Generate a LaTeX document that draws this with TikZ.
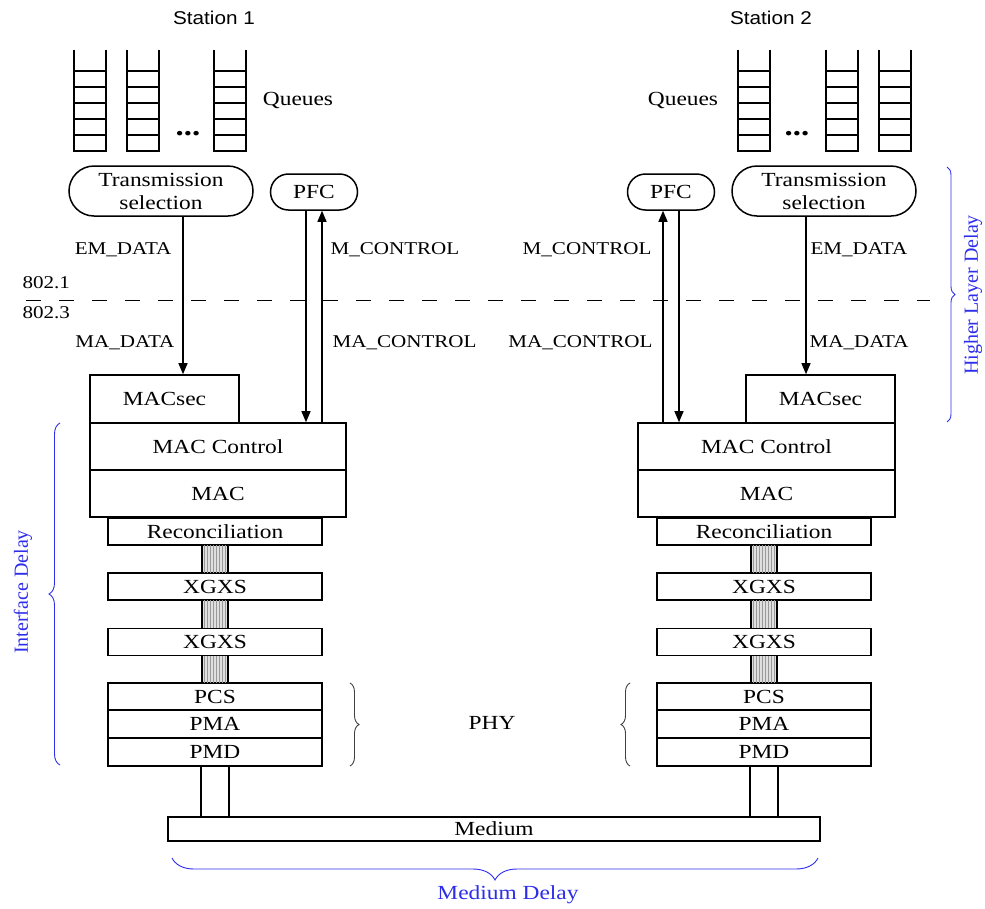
\documentclass[tikz,border=0pt]{standalone}
\usepackage{fontspec}
\setmainfont{Liberation Serif}[FakeStretch=1.17]
\newfontfamily\stationfont{Liberation Sans}[FakeStretch=1.12]
\newfontfamily\delayfont{Liberation Serif}
\usepackage{tikz}
\usetikzlibrary{arrows.meta,shapes.misc,patterns,decorations.pathreplacing}
\definecolor{delayblue}{RGB}{45,45,235}
\newcommand\SA{215}
\newcommand\SB{764}

\begin{document}
\begin{tikzpicture}[x=1pt,y=-1pt,>={Triangle[length=11pt,width=9pt]},
                    line width=1.2pt,inner sep=0pt,
                    font=\fontsize{20}{23}\selectfont]

  \tikzstyle{layer}=[rectangle,draw,line width=1.6pt,minimum width=214pt,minimum height=27pt]
  \tikzstyle{sel}=[rounded rectangle,draw,line width=1.5pt,align=center,minimum width=184pt,minimum height=50pt]
  \tikzstyle{pfc}=[rounded rectangle,draw,line width=1.5pt,minimum width=87pt,minimum height=36pt]
  \tikzstyle{sig}=[font=\fontsize{18}{20}\selectfont]
  \tikzstyle{bus}=[fill=gray!25,postaction={pattern=vertical lines,pattern color=gray!80}]
  \tikzstyle{delay}=[decorate,decoration={brace,amplitude=8pt},draw=delayblue,line width=0.9pt]
  \tikzstyle{delaytext}=[text=delayblue,font=\delayfont\fontsize{20}{22}\selectfont]
  \tikzstyle{phy}=[decorate,decoration={brace,amplitude=9pt},draw=black!75,line width=0.9pt]

  \useasboundingbox (0,0) rectangle (985,908);

  \node[font=\stationfont\fontsize{18.5}{20}\selectfont] (stA) at (214,18) {Station 1};
  \node[font=\stationfont\fontsize{18.5}{20}\selectfont] (stB) at (771,18) {Station 2};

  % queues
  \foreach \x in {74,127,214,738,826,879} {
    \draw[line width=1.7pt] (\x,50) -- (\x,152) (\x+32,50) -- (\x+32,152);
    \foreach \y in {71,87,103,119,135,151}
      \draw[line width=1.7pt] (\x,\y) -- (\x+32,\y);
  }
  \node[font=\fontsize{28}{30}\bfseries] (dotsA) at (188,134) {...};
  \node[font=\fontsize{28}{30}\bfseries] (dotsB) at (797,134) {...};
  \node (qA) at (298,100) {Queues};
  \node (qB) at (683,100) {Queues};

  \node[sel] (tsA)  at (161,191) {Transmission\\selection};
  \node[pfc] (pfcA) at (314,192) {PFC};
  \node[pfc] (pfcB) at (671,192) {PFC};
  \node[sel] (tsB)  at (824,191) {Transmission\\selection};

  \node[layer,minimum width=149pt,minimum height=48pt] (secA) at (164.5,399) {MACsec};
  \node[layer,minimum width=256pt,minimum height=47pt] (ctlA) at (218,446.5) {MAC Control};
  \node[layer,minimum width=256pt,minimum height=47pt] (macA) at (218,493.5) {MAC};
  \node[layer] (recA) at (\SA,531.5) {Reconciliation};
  \node[layer] (xsA1) at (\SA,586.5) {XGXS};
  \node[layer] (xsA2) at (\SA,642)   {XGXS};
  \node[layer] (pcsA) at (\SA,696.5) {PCS};
  \node[layer,minimum height=28pt] (pmaA) at (\SA,724) {PMA};
  \node[layer,minimum height=28pt] (pmdA) at (\SA,752) {PMD};

  \node[layer,minimum width=149pt,minimum height=48pt] (secB) at (820.5,399) {MACsec};
  \node[layer,minimum width=257pt,minimum height=47pt] (ctlB) at (766.5,446.5) {MAC Control};
  \node[layer,minimum width=257pt,minimum height=47pt] (macB) at (766.5,493.5) {MAC};
  \node[layer] (recB) at (\SB,531.5) {Reconciliation};
  \node[layer] (xsB1) at (\SB,586.5) {XGXS};
  \node[layer] (xsB2) at (\SB,642)   {XGXS};
  \node[layer] (pcsB) at (\SB,696.5) {PCS};
  \node[layer,minimum height=28pt] (pmaB) at (\SB,724) {PMA};
  \node[layer,minimum height=28pt] (pmdB) at (\SB,752) {PMD};

  \node[layer,minimum width=652pt,minimum height=24pt] (med) at (494,829) {Medium};

  % 802.1 / 802.3 boundary
  \coordinate (sepL) at (26,300);
  \coordinate (sepR) at (930,300);
  \draw[line width=1pt,dash pattern=on 15pt off 18pt] (sepL) -- (sepR);
  \node[sig,anchor=west] (l1) at (22,283) {802.1};
  \node[sig,anchor=west] (l3) at (22,313) {802.3};

  \coordinate (emA)  at ([xshift=22pt]tsA.south);
  \coordinate (pdnA) at ([xshift=-8pt]pfcA.south);
  \coordinate (pupA) at ([xshift=8pt]pfcA.south);
  \coordinate (emB)  at ([xshift=-18pt]tsB.south);
  \coordinate (pupB) at ([xshift=-8pt]pfcB.south);
  \coordinate (pdnB) at ([xshift=8pt]pfcB.south);

  \draw[->] (emA) -- (emA |- secA.north);
  \draw[->] (pdnA) -- (pdnA |- ctlA.north);
  \draw[->] (pupA |- ctlA.north) -- (pupA);
  \draw[->] (emB) -- (emB |- secB.north);
  \draw[->] (pdnB) -- (pdnB |- ctlB.north);
  \draw[->] (pupB |- ctlB.north) -- (pupB);

  \node[sig,anchor=east] (emdA) at (172,250) {EM\_DATA};
  \node[sig,anchor=east] (madA) at (175,343) {MA\_DATA};
  \node[sig,anchor=west] (mcA)  at (330,250) {M\_CONTROL};
  \node[sig,anchor=west] (macA) at (332,343) {MA\_CONTROL};
  \node[sig,anchor=east] (mcB)  at (652,250) {M\_CONTROL};
  \node[sig,anchor=east] (macB) at (653,343) {MA\_CONTROL};
  \node[sig,anchor=west] (emdB) at (810,250) {EM\_DATA};
  \node[sig,anchor=west] (madB) at (809,343) {MA\_DATA};

  \foreach \u/\l in {recA/xsA1,xsA1/xsA2,xsA2/pcsA,recB/xsB1,xsB1/xsB2,xsB2/pcsB} {
    \path[bus] ([xshift=-13pt]\u.south) rectangle ([xshift=13pt]\l.north);
    \draw[line width=1.5pt] ([xshift=-13pt]\u.south) -- ([xshift=-13pt]\l.north)
                            ([xshift=13pt]\u.south) -- ([xshift=13pt]\l.north);
  }

  \foreach \s in {A,B} {
    \coordinate (lk1\s) at ([xshift=-14pt]pmd\s.south);
    \coordinate (lk2\s) at ([xshift=14pt]pmd\s.south);
    \draw[line width=1.5pt] (lk1\s) -- (lk1\s |- med.north) (lk2\s) -- (lk2\s |- med.north);
  }

  \draw[phy] (350,683) -- (350,766);
  \draw[phy] (630,766) -- (630,683);
  \node (phy) at (492,723) {PHY};

  \draw[delay] (947,167) -- (947,422);
  \node[delaytext,rotate=90] (hld) at (973,295) {Higher Layer Delay};
  \draw[delay,decoration={amplitude=11pt}] (60,765) -- (60,423);
  \node[delaytext,rotate=90] (ifd) at (23,592) {Interface Delay};
  \draw[delay,decoration={amplitude=22pt}] (818,858) -- (172,858);
  \node[delaytext,font=\fontsize{20}{22}\selectfont] (mdd) at (508,895) {Medium Delay};
\end{tikzpicture}
\end{document}
